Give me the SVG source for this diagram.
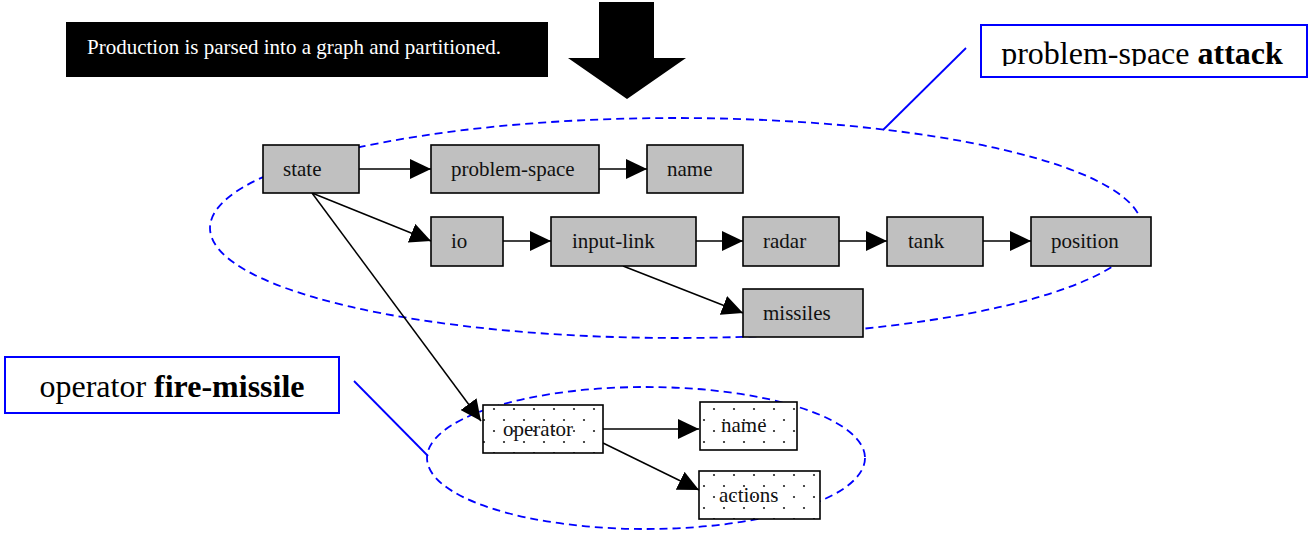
<svg xmlns="http://www.w3.org/2000/svg" width="1308" height="544" viewBox="0 0 1308 544">
<style>
.node{fill:#c0c0c0;stroke:#000;stroke-width:1.6}
.dot{fill:url(#dots);stroke:#000;stroke-width:1.6}
.t{font-family:"Liberation Serif","Times New Roman",serif;font-size:21px;fill:#111}
.conn{stroke:#000;stroke-width:1.5;fill:none;marker-end:url(#ah)}
.ell{fill:none;stroke:#0000ff;stroke-width:1.8;stroke-dasharray:8 5}
.lbl{fill:#fff;stroke:#0000ff;stroke-width:2}
.lt{font-family:"Liberation Serif","Times New Roman",serif;font-size:32px;fill:#000}
.lead{stroke:#0000ff;stroke-width:1.8;fill:none}
</style>
<defs>
<marker id="ah" viewBox="0 0 21 20" refX="21" refY="10" markerWidth="21" markerHeight="20" markerUnits="userSpaceOnUse" orient="auto">
<path d="M0,0 L21,10 L0,20 z" fill="#000"/>
</marker>
<pattern id="dots" width="20" height="22" patternUnits="userSpaceOnUse">
<rect width="20" height="22" fill="#fff"/>
<circle cx="4" cy="2" r="1.1" fill="#222"/>
<circle cx="14" cy="13" r="1.1" fill="#222"/>
</pattern>
<clipPath id="clipPS"><rect x="982" y="26" width="324" height="40"/></clipPath>
</defs>

<g id="banner">
<rect x="66" y="22" width="482" height="55" fill="#000"/>
<text x="87" y="54" font-family="'Liberation Serif', 'Times New Roman', serif" font-size="21" fill="#fff">Production is parsed into a graph and partitioned.</text>
</g>
<g id="big-arrow">
<path d="M599,2 L654,2 L654,58 L686,58 L627,99 L568,58 L599,58 z" fill="#000"/>
</g>

<g id="ellipses">
<ellipse class="ell" cx="676" cy="228" rx="466" ry="110"/>
<ellipse class="ell" cx="646" cy="458" rx="219" ry="71"/>
</g>

<g id="label-attack">
<rect class="lbl" x="981" y="25" width="326" height="52"/>
<text class="lt" x="1142" y="64" text-anchor="middle" clip-path="url(#clipPS)">problem-space <tspan font-weight="bold">attack</tspan></text>
<line class="lead" x1="966" y1="48" x2="883" y2="130"/>
</g>
<g id="label-fire">
<rect class="lbl" x="5" y="357" width="334" height="56"/>
<text class="lt" x="172" y="397" text-anchor="middle">operator <tspan font-weight="bold">fire-missile</tspan></text>
<line class="lead" x1="354" y1="381" x2="428" y2="456"/>
</g>

<g id="connectors">
<line class="conn" x1="359" y1="169" x2="431" y2="169"/>
<line class="conn" x1="599" y1="169" x2="647" y2="169"/>
<line class="conn" x1="312" y1="193" x2="431" y2="241"/>
<line class="conn" x1="503" y1="241" x2="551" y2="241"/>
<line class="conn" x1="696" y1="241" x2="743" y2="241"/>
<line class="conn" x1="839" y1="241" x2="887" y2="241"/>
<line class="conn" x1="983" y1="241" x2="1031" y2="241"/>
<line class="conn" x1="623" y1="266" x2="743" y2="313"/>
<line class="conn" x1="312" y1="193" x2="481" y2="421"/>
<line class="conn" x1="603" y1="429" x2="699" y2="429"/>
<line class="conn" x1="603" y1="443" x2="699" y2="490"/>
</g>

<g id="state"><rect class="node" x="263" y="145" width="96" height="48"/><text class="t" x="283" y="176">state</text></g>
<g id="problem-space"><rect class="node" x="431" y="145" width="168" height="48"/><text class="t" x="451" y="176">problem-space</text></g>
<g id="name"><rect class="node" x="647" y="145" width="96" height="48"/><text class="t" x="667" y="176">name</text></g>
<g id="io"><rect class="node" x="431" y="217" width="72" height="49"/><text class="t" x="451" y="248">io</text></g>
<g id="input-link"><rect class="node" x="551" y="217" width="145" height="49"/><text class="t" x="572" y="248">input-link</text></g>
<g id="radar"><rect class="node" x="743" y="217" width="96" height="49"/><text class="t" x="763" y="248">radar</text></g>
<g id="tank"><rect class="node" x="887" y="217" width="96" height="49"/><text class="t" x="908" y="248">tank</text></g>
<g id="position"><rect class="node" x="1031" y="217" width="120" height="49"/><text class="t" x="1051" y="248">position</text></g>
<g id="missiles"><rect class="node" x="743" y="289" width="120" height="48"/><text class="t" x="763" y="320">missiles</text></g>

<g id="operator"><rect class="dot" x="483" y="405" width="120" height="48"/><text class="t" x="503" y="436">operator</text></g>
<g id="op-name"><rect class="dot" x="700" y="402" width="97" height="48"/><text class="t" x="721" y="432">name</text></g>
<g id="actions"><rect class="dot" x="699" y="471" width="121" height="48"/><text class="t" x="719" y="502">actions</text></g>
</svg>
